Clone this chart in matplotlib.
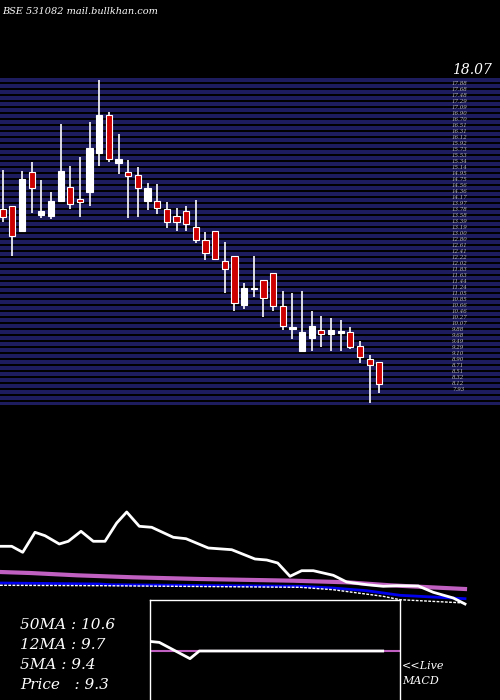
import matplotlib
matplotlib.use("Agg")
import matplotlib.pyplot as plt
import numpy as np

# candles: open, high, low, close
opens  = [13.80,13.91,13.11,15.00,13.62,13.60,14.08,14.53,14.13,14.38,15.64,16.87,15.32,15.00,14.91,14.07,14.07,13.80,13.59,13.75,13.22,12.80,13.09,12.11,12.29,10.70,11.20,11.50,11.73,10.65,9.90,9.18,9.63,9.88,9.76,9.79,9.82,9.36,8.94,8.84]
closes = [13.56,12.95,14.79,14.51,13.75,14.07,15.05,13.99,14.05,15.80,16.87,15.45,15.44,14.90,14.49,14.49,13.83,13.40,13.40,13.31,12.80,12.37,12.20,11.87,10.77,11.25,11.25,10.93,10.67,10.02,9.96,9.82,10.01,9.74,9.88,9.85,9.34,9.01,8.73,8.12]
highs  = [15.08,13.91,15.05,15.34,14.76,14.37,16.58,15.21,15.50,16.64,18.01,16.97,16.25,15.41,15.18,14.66,14.63,14.04,13.85,13.91,14.11,13.07,13.10,12.74,12.29,11.41,12.29,11.50,11.74,11.16,11.08,11.16,10.50,10.34,10.28,10.21,9.96,9.52,9.05,8.85]
lows   = [13.40,12.29,13.11,13.69,13.53,13.49,14.08,13.82,13.56,13.92,15.21,15.35,14.96,13.53,13.56,13.78,13.65,13.21,13.11,13.11,12.70,12.16,12.20,11.09,10.51,10.57,10.96,10.31,10.51,9.89,9.60,9.18,9.18,9.34,9.18,9.21,9.27,8.82,7.50,7.82]

# lower panel moving averages
ma_x   = [0,11.7,22.7,35,45,59.3,68.3,81,93.3,105,116.7,126.7,139.3,151.7,173.3,186,208.3,231.7,255,266.7,277.7,290,301.7,313.3,333.3,346.7,366.7,383.3,396.7,418.3,433.3,453.3,465]
ma5    = [7.17,7.17,6.57,8.57,8.23,7.4,7.67,8.67,7.67,7.67,9.5,10.6,9.17,9.07,8.07,7.93,7.0,6.83,5.9,5.8,5.5,4.17,4.73,4.73,4.27,3.6,3.33,3.17,3.23,3.2,2.57,2.0,1.4]
ma50_x = [0,30,76.7,133.3,200,293.3,346.7,390,465]
ma50   = [4.6,4.5,4.27,4.07,3.9,3.73,3.57,3.27,2.9]
ma12_x = [0,100,110,300,333,366.7,400,465]
ma12   = [3.5,3.4,3.33,3.17,3.0,2.73,2.27,1.93]
ma20_x = [0,100,300,333,383,400,465]
ma20   = [3.27,3.23,3.07,2.83,2.17,1.83,1.5]

macd_x = [0,9.3,40,49.3,232.7]
macd   = [0.3,0.27,-0.24,0,0]
sig_x  = [0,249]
sig    = [0,0]

W, H = 500, 700
fig = plt.figure(figsize=(5, 7), dpi=100, facecolor='black')

def px_axes(x0, y0, x1, y1):
    return fig.add_axes([x0 / W, 1 - y1 / H, (x1 - x0) / W, (y1 - y0) / H])

# top panel
ax = px_axes(0, 78, 500, 405)
ax.set_facecolor('black')
ymin, ymax = 7.44, 18.07
ax.set_ylim(ymin, ymax)
xl0, xl1 = -0.28, 51.5
ax.set_xlim(xl0, xl1)
step = 0.195
lv = ymax
while lv > ymin:
    ax.axhspan(lv - step * 0.6, lv, color='#1c1c5e', lw=0)
    lv -= step
for i, (o, h, l, c) in enumerate(zip(opens, highs, lows, closes)):
    col = 'white' if c >= o else '#cc0000'
    ax.vlines(i, l, h, color='white', lw=1.2, zorder=2)
    lo, hi = min(o, c), max(o, c)
    ax.bar(i, max(hi - lo, 0.05), bottom=lo, width=0.65, color=col,
           edgecolor='white', lw=0.8, zorder=3)
ax.axis('off')
fig.text(452 / W, 1 - 70 / H, '18.07', color='white', fontsize=10,
         family='DejaVu Serif', style='italic', va='center')
lv = ymax - step
xlab = xl0 + (xl1 - xl0) * 452 / 500
while lv > ymin + 0.3:
    ax.text(xlab, lv, f'{lv:.2f}', color='#bbbbbb',
            fontsize=4, va='center', family='DejaVu Serif', style='italic')
    lv -= step

# lower panel
ax2 = px_axes(0, 500, 500, 620)
ax2.set_facecolor('none')
ax2.set_xlim(0, 500)
ax2.set_ylim(-0.2, 11.8)
ax2.plot(ma50_x, ma50, color='#c060c0', lw=3)
ax2.plot(ma12_x, ma12, color='#0000ee', lw=2)
ax2.plot(ma20_x, ma20, color='white', lw=1, ls=(0, (2, 1)))
ax2.plot(ma_x, ma5, color='white', lw=2)
ax2.axis('off')

# MACD box
ax3 = px_axes(150, 600, 400, 702)
ax3.set_facecolor('black')
ax3.set_xlim(0, 250)
ax3.set_ylim(-1.6, 1.6)
ax3.plot(sig_x, sig, color='#c060c0', lw=1.5)
ax3.plot(macd_x, macd, color='white', lw=2)
ax3.set_xticks([]); ax3.set_yticks([])
for s in ax3.spines.values():
    s.set_color('white'); s.set_linewidth(1)

tf = dict(color='white', family='DejaVu Serif', style='italic')
fig.text(2 / W, 1 - 12 / H, 'BSE 531082 mail.bullkhan.com', fontsize=7, va='center', **tf)
for y, t in [(625, '50MA : 10.6'), (645, '12MA : 9.7'), (665, '5MA : 9.4'), (685, 'Price   : 9.3')]:
    fig.text(20 / W, 1 - y / H, t, fontsize=11, va='center', **tf)
fig.text(402 / W, 1 - 666 / H, '<<Live', fontsize=8, va='center', **tf)
fig.text(402 / W, 1 - 681 / H, 'MACD', fontsize=8, va='center', **tf)

fig.savefig('out.png', dpi=100, facecolor='black')
